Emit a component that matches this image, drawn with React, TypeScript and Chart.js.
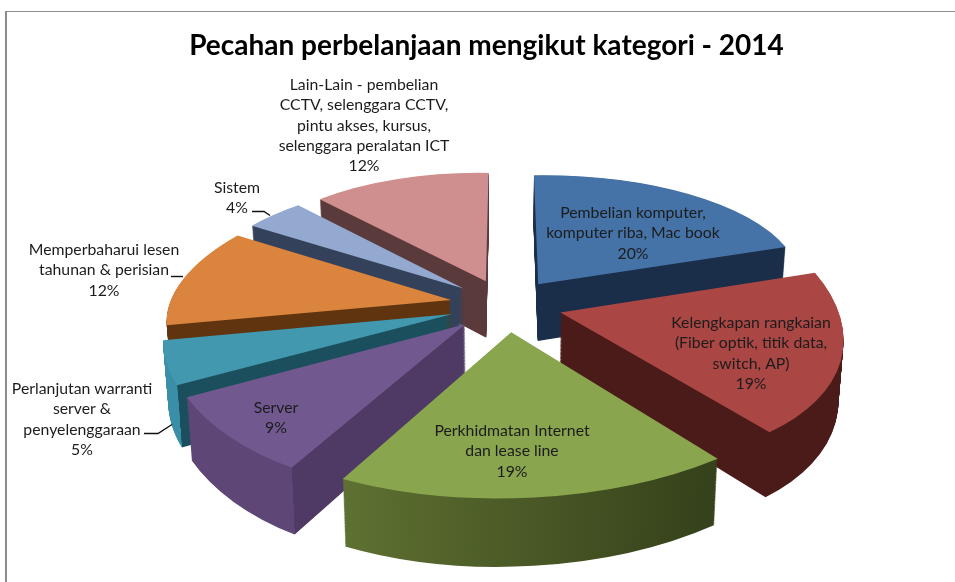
import React, { useEffect, useRef } from "react";
import { Chart, registerables } from "chart.js";

Chart.register(...registerables);

const titleText = "Pecahan perbelanjaan mengikut kategori - 2014";
const categories = [
  "Pembelian komputer, komputer riba, Mac book",
  "Kelengkapan rangkaian (Fiber optik, titik data, switch, AP)",
  "Perkhidmatan Internet dan lease line",
  "Server",
  "Perlanjutan warranti server & penyelenggaraan",
  "Memperbaharui lesen tahunan & perisian",
  "Sistem",
  "Lain-Lain - pembelian CCTV, selenggara CCTV, pintu akses, kursus, selenggara peralatan ICT",
];
const values = [20, 19, 19, 9, 5, 12, 4, 12];
const topColors = ["#4573a7", "#aa4643", "#89a54e", "#71588f", "#4198af", "#db843d", "#93a9cf", "#cf8f8e"];
// outer wall tone (left part) and inner wall tones
const wallOuter = ["#1a2d49", "#4a1b18", "#6a7e38", "#5e4676", "#3b8ea8", "#5f340f", "#33425a", "#5a3a3a"];
const wallInner = ["#1a2d49", "#4a1b18", "#36421b", "#4f3a65", "#1b4f5d", "#5f340f", "#33425a", "#5a3a3a"];
const labelLines = [
  ["Pembelian komputer,", "komputer riba, Mac book", "20%"],
  ["Kelengkapan rangkaian", "(Fiber optik, titik data,", "switch, AP)", "19%"],
  ["Perkhidmatan Internet", "dan lease line", "19%"],
  ["Server", "9%"],
  ["Perlanjutan warranti", "server &", "penyelenggaraan", "5%"],
  ["Memperbaharui lesen", "tahunan & perisian", "12%"],
  ["Sistem", "4%"],
  ["Lain-Lain - pembelian", "CCTV, selenggara CCTV,", "pintu akses, kursus,", "selenggara peralatan ICT", "12%"],
];
const labelAnchors = [
  [633, 213], [751, 323], [512, 431], [276, 408], [82, 389], [104, 250], [237, 188], [364, 85],
];
const leaders = [
  [[144, 433], [158, 433], [172, 424]],
  [[171, 276], [183, 276]],
  [[252, 211], [264, 211], [270, 215]],
];

const view = { cx: 506, cy: 305, rx: 281, ry: 132, d: 6.4, explode: 0.2, depth: 58, squeeze: 0.985, skewX: 6, sagY: 3 };

function project(u: number, v: number, t: number) {
  const s = view.d / (view.d - v);
  const k = 1 + (view.squeeze - 1) * t;
  const front = Math.max(v, 0) ** 2;
  return {
    x: view.cx + view.rx * s * u * k - view.skewX * front,
    y: view.cy + view.ry * s * v + view.sagY * front + t * view.depth * (1 + (s - 1) * 0.8),
  };
}

const pie3d = {
  id: "pie3d",
  beforeDatasetsDraw(chart: any) {
    const ctx = chart.ctx;
    const arcs: any[] = chart.getDatasetMeta(0).data;
    const slices = arcs.map((el, i) => {
      const a0 = el.startAngle, a1 = el.endAngle, mid = (a0 + a1) / 2;
      return { el, i, a0, a1, ax: view.explode * Math.cos(mid), ay: view.explode * Math.sin(mid), order: Math.sin(mid) };
    });
    slices.sort((p, q) => p.order - q.order);
    ctx.save();
    for (const s of slices) {
      const el = s.el;
      const R = el.outerRadius;
      const c0 = Math.cos(s.a0), s0 = Math.sin(s.a0), c1 = Math.cos(s.a1), s1 = Math.sin(s.a1);
      const det = R * R * (c0 * s1 - c1 * s0);
      const setT = (t: number) => {
        const Q = project(s.ax, s.ay, t);
        const A = project(s.ax + c0, s.ay + s0, t);
        const B = project(s.ax + c1, s.ay + s1, t);
        const q1x = A.x - Q.x, q1y = A.y - Q.y, q2x = B.x - Q.x, q2y = B.y - Q.y;
        const p1x = R * c0, p1y = R * s0, p2x = R * c1, p2y = R * s1;
        const m11 = (q1x * p2y - q2x * p1y) / det;
        const m12 = (q2x * p1x - q1x * p2x) / det;
        const m21 = (q1y * p2y - q2y * p1y) / det;
        const m22 = (q2y * p1x - q1y * p2x) / det;
        ctx.setTransform(m11, m21, m12, m22, Q.x - m11 * el.x - m12 * el.y, Q.y - m21 * el.x - m22 * el.y);
      };
      const saved = el.options;
      const grad = ctx.createLinearGradient(el.x - R, 0, el.x + R, 0);
      if (s.i === 2) {
        grad.addColorStop(0.1, wallOuter[s.i]);
        grad.addColorStop(0.8, wallInner[s.i]);
      } else {
        const b = Math.min(0.999, Math.max(0.001, (1 + c0) / 2));
        grad.addColorStop(0, wallOuter[s.i]);
        grad.addColorStop(b, wallOuter[s.i]);
        grad.addColorStop(b, wallInner[s.i]);
        grad.addColorStop(1, wallInner[s.i]);
      }
      el.options = { ...saved, backgroundColor: grad };
      const layers = Math.round(view.depth * 1.25);
      for (let l = layers; l >= 1; l--) {
        setT(l / layers);
        el.draw(ctx);
      }
      el.options = saved;
      setT(0);
      el.draw(ctx);
    }
    ctx.restore();
    ctx.setTransform(1, 0, 0, 1, 0, 0);
    return false;
  },
  afterDraw(chart: any) {
    const ctx = chart.ctx;
    ctx.save();
    ctx.setTransform(1, 0, 0, 1, 0, 0);
    ctx.font = "15.8px Lato";
    ctx.textAlign = "center";
    ctx.textBaseline = "middle";
    ctx.fillStyle = "#1c1c1c";
    labelLines.forEach((lines, i) => {
      const [x, y] = labelAnchors[i];
      lines.forEach((t, j) => ctx.fillText(t, x, y + j * 20.3));
    });
    ctx.strokeStyle = "#111";
    ctx.lineWidth = 1.4;
    for (const pts of leaders) {
      ctx.beginPath();
      pts.forEach(([x, y], j) => (j ? ctx.lineTo(x, y + 0.5) : ctx.moveTo(x, y + 0.5)));
      ctx.stroke();
    }
    ctx.restore();
  },
};

export default function App() {
  const ref = useRef<HTMLCanvasElement>(null);
  useEffect(() => {
    const chart = new Chart(ref.current!, {
      type: "pie",
      data: {
        labels: categories,
        datasets: [{ data: values, backgroundColor: topColors, borderWidth: 0 }],
      },
      options: {
        responsive: false,
        animation: false,
        layout: { padding: { left: 18 } },
        plugins: {
          legend: { display: false },
          tooltip: { enabled: false },
          title: {
            display: true,
            text: titleText,
            color: "#000",
            font: { family: "Lato", size: 28, weight: "bold" },
            padding: { top: 29, bottom: 10 },
          },
        },
      },
      plugins: [pie3d],
    } as any);
    return () => chart.destroy();
  }, []);
  return (
    <div style={{ position: "absolute", left: 0, top: 0, width: 955, height: 582, background: "#fff", overflow: "hidden" }}>
      <canvas ref={ref} width={955} height={582} style={{ display: "block" }} />
      <div style={{ position: "absolute", left: 5, top: 11, width: 950, height: 571, boxSizing: "border-box", borderLeft: "2px solid #8c8c8c", borderTop: "1px solid #8c8c8c" }} />
    </div>
  );
}
